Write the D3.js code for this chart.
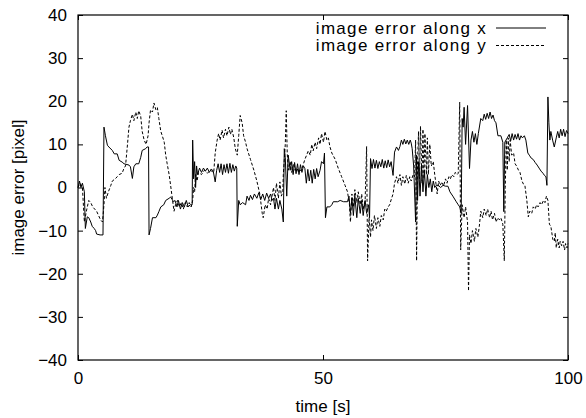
<!DOCTYPE html>
<html>
<head>
<meta charset="utf-8">
<script src="https://cdn.jsdelivr.net/npm/d3@7"></script>
<style>
  body { margin: 0; background: #fff; }
  svg { display: block; }
  text { font-family: "Liberation Sans", Arial, sans-serif; font-size: 17px; fill: #000; }
</style>
</head>
<body>
<div id="graph"></div>
<script>
// Données : [temps (s), erreur (pixel)]
const errorAlongX = [
  [0,0],[0.3,1.5],[0.6,0],[0.9,1],[1.3,-1],[1.5,-9.5],[1.9,-6.8],[2.2,-7],[2.6,-8],[2.9,-9],[3.3,-9.5],[3.6,-10],[3.8,-10.8],[4.5,-11],[5.1,-11],
  [5.3,14],[5.6,12],[6.0,9.8],[6.3,9.4],[7.0,8.6],[7.4,7.8],[8.0,7.8],[8.4,6.3],[9.0,5.9],[9.4,5.5],[10.4,5.2],[10.7,4.8],[11.1,2.1],[11.4,4.8],
  [11.8,5.5],[12.4,5.5],[12.8,7],[13.1,8.6],[13.8,9],[14.1,9.4],[14.4,9.4],[14.5,-11],[14.8,-9.5],[15.2,-7],[15.9,-7],[16.2,-6.4],[16.5,-5.6],
  [16.9,-4.5],[17.5,-4],[17.9,-3],[18.6,-2.5],[18.9,-2.2],[19.5,-3.3],
  [19.8,-3],[20.2,-4.5],[20.5,-3],[20.9,-5],[21.3,-3.5],[21.7,-4.5],[22.1,-3],[22.5,-4.5],[22.9,-4],[23.3,-4],[23.4,11],[23.6,2],[23.8,6],
  [24.0,0],[24.2,5],[24.4,3],[24.8,4.5],[25.2,3.5],[25.6,4.5],[26.0,3.8],[26.4,4.5],[26.8,3.5],[27.2,4.3],[27.6,3.8],[28.0,1.3],[28.3,4],
  [28.6,5.5],[28.9,3.5],[29.2,5.5],[29.5,3],[29.8,5.3],[30.1,3.5],[30.4,5.5],[30.7,3.3],[31.0,5.6],[31.3,3.5],[31.6,5.3],[31.9,3.8],[32.2,5],
  [32.4,4.5],[32.5,-9],[32.8,-3],[33.1,-4],[33.6,-3.5],[34.2,-4],[34.5,-2],[34.9,-3],[35.2,-1.8],[35.6,-2.8],[36.0,-1.5],[36.5,-2.5],
  [36.9,-1.2],[37.3,-2.8],[37.7,-1.5],[38.1,-3],[38.5,-1.3],[38.9,-2.5],[39.3,-1.5],[39.6,-3],
  [39.9,-2.5],[40.2,-5],[40.5,-2.5],[40.9,-5],[41.2,-3],[41.6,-5],[41.9,-8],[42.1,9],[42.3,7],[42.6,-2],[42.9,7.5],[43.3,4],[43.6,6],
  [43.9,3],[44.2,5.8],[44.5,3.2],[44.8,5.5],[45.1,3],[45.4,5.3],[45.7,3.5],[46.0,5],[46.3,4.4],[46.6,1],[46.9,4.2],[47.2,1.5],[47.5,4],
  [47.8,1],[48.1,4.2],[48.4,2],[48.7,4.4],[49.0,2.5],[49.4,4],[49.7,6],[50.1,5.5],[50.3,8],[50.5,-7],[50.8,-4.5],[51.4,-4.5],[51.8,-4],
  [52.1,-3.3],[53,-3.3],[53.5,-3],[54.2,-3.3],[55.0,-3.3],[55.3,-2],[55.6,-6],[55.9,-2.5],[56.2,-6.5],[56.5,-2],[56.9,-7],[57.2,-2.5],
  [57.6,-6],[57.9,-3],[58.2,-6.5],[58.6,-3],[58.9,-6],[59.3,-4],[59.5,-7],[59.7,6.7],
  [60.0,4.4],[60.3,6.5],[60.6,4.5],[60.9,6.3],[61.2,4.4],[61.5,6],[61.8,4.8],[62.1,6.5],[62.4,4.5],[62.7,6.2],[63.0,4.6],[63.3,6.4],
  [63.6,4.8],[63.9,6],[64.3,2.8],[64.6,8.2],[65.0,9.4],[65.4,8.6],[65.7,9.5],[66.0,11],[66.3,10],[66.6,11.2],[66.9,10.1],[67.2,11],
  [67.5,10],[67.8,11],[68.0,10.3],[68.2,9],[68.5,5],[68.9,-8],[69.1,7.5],[69.3,-3],[69.5,6],[69.8,-2],[70.1,5],[70.4,-1],[70.7,4],
  [71.0,-2],[71.3,3],[71.6,0],[71.9,2],[72.2,-1],[72.5,1.5],[72.8,0],[73.1,0.5],[73.5,0.5],[74,0],[74.5,0.5],[75,0.3],[75.5,0.3],
  [75.9,-1],[76.5,-2],[77.2,-3.3],[77.6,-4],[77.9,-4.5],[78.2,-6],[78.4,16],[78.6,14],[78.8,18.6],[79.1,10],[79.5,19],[79.9,4.4],
  [80.2,11],[80.5,13],[80.8,10.5],[81.1,12.5],[81.4,10],[81.7,12.5],[82.2,16],[82.6,15.5],[82.9,17],[83.2,15.8],[83.5,17.2],[83.8,16],
  [84.1,17.5],[84.4,16],[84.7,16.8],[85.0,15.5],[85.3,15],[85.7,12],[86.3,12],[86.7,10.5],[86.9,-5.6],[87.1,10.5],[87.6,11.5],[88.0,12.3],
  [88.3,10.8],[88.6,12.5],[88.9,11],[89.2,12.3],[89.5,11.2],[89.8,12.5],[90.1,11],[90.4,12],[90.7,11.5],[91.1,12],[91.4,11],[91.8,8],
  [92.1,7.5],[92.5,6.8],[92.9,6.5],[93.3,5.8],[93.7,5.2],[94.1,4.5],[94.5,3.8],[94.9,3.3],[95.2,2.8],[95.5,2.5],[95.7,0.5],[95.9,21],
  [96.1,15],[96.3,11],[96.5,13],[96.9,10.8],[97.2,9.4],[97.6,11.5],[97.9,13],[98.2,11.5],[98.5,13.5],[98.8,12],[99.1,13.5],[99.4,11.8],
  [99.7,13.2],[100,12.5]
];

const errorAlongY = [
  [0,0],[0.4,1],[0.9,0],[1.3,-8],[1.8,-5],[2.2,-3],[2.6,-3.5],[3.0,-4.5],[3.4,-5],[3.8,-5.5],[4.2,-6.5],[4.6,-7.5],[5.0,-8],[5.3,-4],
  [5.5,0],[5.8,-2.5],[6.2,-1],[6.7,0.5],[7.0,1.5],[7.6,2],[8.0,2.5],[8.4,3],[9.0,3.3],[9.4,4.5],[9.7,5],[10.1,10],[10.4,14],[10.7,15.5],
  [11.1,17],[11.4,15.5],[11.8,17.5],[12.1,16],[12.4,17.8],[12.8,16.5],[13.1,13],[13.5,11],[13.9,10],[14.3,12],[14.5,15],[14.8,18],
  [15.2,17.5],[15.5,19.6],[15.9,18],[16.2,18.5],[16.5,16],[16.9,13],[17.2,12],[17.6,10.5],[17.9,7.5],[18.2,5.5],[18.6,3],[18.9,0.5],
  [19.3,-3],[19.6,-5.5],
  [19.9,-4],[20.3,-3],[20.7,-4.5],[21.1,-3.5],[21.5,-5],[21.9,-3.5],[22.3,-4.5],[22.7,-3.5],[23.1,-4.5],[23.4,-3],[23.6,0],[23.8,-1],
  [24.0,3],[24.3,1.5],[24.6,3.5],[25.2,3],[25.8,4],[26.4,3.3],[27.0,4],[27.7,3.5],[28.0,8],[28.4,11],[28.7,12.5],[29.0,11],[29.4,13.3],
  [29.7,11.5],[30.1,13.5],[30.4,12],[30.8,14],[31.1,12.3],[31.4,13.5],[31.8,11.5],[32.1,9],[32.5,7.5],[32.8,12],[33.1,16.7],[33.5,15],
  [33.8,12],[34.2,10.5],[34.5,9],[35.2,6.5],[35.9,4],[36.5,1.5],[37.1,-1.5],[37.6,-6],[37.8,-7],[38.2,-4],[38.6,-5],[38.9,-2.5],
  [39.3,-4],[39.6,-2],
  [39.9,0],[40.2,-3],[40.5,1],[40.9,-2.5],[41.2,1.3],[41.5,-2],[41.8,-1],[41.9,3],[42.3,10],[42.5,17.8],[42.7,8],[42.9,4],[43.3,6],
  [43.6,3.5],[44.0,5.5],[44.3,4],[44.7,4.5],[45.0,3.5],[45.3,4],[45.6,4],[46.3,6.5],[47.0,8.5],[47.4,7.5],[47.7,10],[48.0,8.5],
  [48.4,10.5],[48.7,9],[49.1,11.5],[49.4,10],[49.7,12.5],[50.1,10.5],[50.4,13],[50.8,11],[51.1,11.5],[51.4,9.5],[51.8,8],[52.5,6.5],
  [53.1,4.5],[53.8,2.5],[54.5,0.5],[55.0,-1],[55.4,-4],[55.6,-8],[55.9,-1.5],[56.2,-4.5],[56.5,-0.5],[56.9,-3.5],[57.2,-1],[57.6,-4],
  [57.9,-1.5],[58.2,-5],[58.6,-3],[58.9,9.5],[59.1,-17],[59.4,-7],[59.7,-11.5],
  [59.9,-7.5],[60.2,-10],[60.5,-6.5],[60.9,-9.5],[61.2,-7],[61.6,-9],[61.9,-6.5],[62.3,-7.5],[62.6,-5],[62.9,-5.5],[63.3,-4.5],
  [63.6,-4],[64.0,-2.5],[64.3,-1.5],[64.6,1],[65.0,2.5],[65.3,1],[65.7,3],[66.0,0.5],[66.3,2.5],[66.7,0.8],[67.0,2.8],[67.4,1],
  [67.7,2.5],[68.0,1.5],[68.4,3],[68.7,2.5],[68.9,11],[69.1,-17],[69.3,6],[69.5,13],[69.7,2],[69.9,14.2],[70.2,1],[70.4,13.5],
  [70.6,2],[70.8,12.5],[71.1,3],[71.3,11.5],[71.5,3],[71.8,10],[72.1,5],[72.5,6],[72.8,3],[73.1,0.5],[73.3,-1.5],[73.6,1.5],
  [73.9,0.5],[74.3,1.3],[74.6,0.3],[75.0,2],[75.3,1],[75.7,2.5],[76.0,2],[76.3,3],[76.7,2.5],[77.0,3.5],[77.4,3],[77.6,3.3],
  [77.9,19.8],[78.1,-14.5],[78.4,-4],[78.8,-7],[79.1,-4.5],[79.5,-8],[79.7,-24],
  [79.9,-11],[80.2,-13],[80.5,-10],[80.9,-12.5],[81.2,-9.5],[81.6,-11.5],[81.9,-9],[82.2,-5.5],[82.6,-7],[82.9,-5],[83.3,-6.5],
  [83.6,-5],[84.0,-7],[84.3,-5.5],[84.6,-7.5],[85.0,-6],[85.3,-8],[85.7,-7],[86.0,-7.5],[86.3,-7],[86.7,-8.5],[87.0,-17],[87.2,0],
  [87.4,11],[87.6,4],[87.8,11.5],[88.0,6],[88.2,11],[88.5,7.5],[88.9,8],[89.2,5.5],[89.5,5],[89.9,4],[90.2,3.5],[90.6,1.5],
  [90.9,0.8],[91.2,0.5],[91.6,-3],[91.9,-6.8],[92.2,-5.5],[92.6,-6],[92.9,-4.5],[93.3,-5],[93.6,-4],[93.9,-4.5],[94.3,-3.5],
  [94.6,-4],[95.0,-3],[95.3,-3.5],[95.6,-2],[95.9,-3],[96.2,-8.5],[96.5,-9],[96.9,-12],[97.2,-12.5],[97.4,-10.5],[97.6,-14],
  [97.9,-12],[98.2,-14],[98.4,-12.5],[98.7,-13.5],[99.0,-12.5],[99.3,-14.5],[99.5,-13],[99.8,-14],[100,-13]
];

const xTicks = [0, 50, 100];
const yTicks = [-40, -30, -20, -10, 0, 10, 20, 30, 40];
const legendLabels = ['image error along x', 'image error along y'];

//---------------------------------------------------------------------------------------

// Canevas

const width = 586;
const height = 418;
const margin = { top: 15, right: 18, bottom: 58, left: 78 };

const svg = d3.select('#graph')
  .append('svg')
  .attr('width', width)
  .attr('height', height);

// Échelles

const scaleX = d3.scaleLinear()
  .domain([0, 100])
  .range([margin.left, width - margin.right]);

const scaleY = d3.scaleLinear()
  .domain([-40, 40])
  .range([height - margin.bottom, margin.top]);

//---------------------------------------------------------------------------------------

// Axes (ticks vers l'intérieur, en miroir comme gnuplot)

const tickLen = 5;

svg.append('g')
  .attr('transform', `translate(0,${scaleY(-40)})`)
  .call(d3.axisBottom(scaleX).tickValues(xTicks).tickSize(-tickLen).tickPadding(12))
  .call(g => g.select('.domain').remove());

svg.append('g')
  .attr('transform', `translate(0,${scaleY(40)})`)
  .call(d3.axisTop(scaleX).tickValues(xTicks).tickSize(-tickLen).tickFormat(''))
  .call(g => g.select('.domain').remove());

svg.append('g')
  .attr('transform', `translate(${scaleX(0)},0)`)
  .call(d3.axisLeft(scaleY).tickValues(yTicks).tickSize(-tickLen).tickPadding(11))
  .call(g => g.select('.domain').remove());

svg.append('g')
  .attr('transform', `translate(${scaleX(100)},0)`)
  .call(d3.axisRight(scaleY).tickValues(yTicks).tickSize(-tickLen).tickFormat(''))
  .call(g => g.select('.domain').remove());

svg.selectAll('.tick line').attr('stroke', '#000');
svg.selectAll('.tick text')
  .attr('font-size', 17)
  .attr('font-family', '"Liberation Sans", Arial, sans-serif');

//---------------------------------------------------------------------------------------

// Courbes

const line = d3.line()
  .x(d => scaleX(d[0]))
  .y(d => scaleY(d[1]));

svg.append('path')
  .datum(errorAlongY)
  .attr('d', line)
  .attr('fill', 'none')
  .attr('stroke', '#000')
  .attr('stroke-width', 1)
  .attr('stroke-dasharray', '3,2');

svg.append('path')
  .datum(errorAlongX)
  .attr('d', line)
  .attr('fill', 'none')
  .attr('stroke', '#000')
  .attr('stroke-width', 1);

// Cadre

svg.append('rect')
  .attr('x', scaleX(0))
  .attr('y', scaleY(40))
  .attr('width', scaleX(100) - scaleX(0))
  .attr('height', scaleY(-40) - scaleY(40))
  .attr('fill', 'none')
  .attr('stroke', '#000')
  .attr('stroke-width', 1.2);

//---------------------------------------------------------------------------------------

// Légende

const legend = svg.append('g')
  .selectAll('g')
  .data(legendLabels)
  .join('g')
  .attr('transform', (d, i) => `translate(0,${28 + i * 17.5})`);

legend.append('text')
  .attr('x', 487)
  .attr('dy', '0.35em')
  .attr('text-anchor', 'end')
  .attr('font-size', 15)
  .attr('letter-spacing', '1.3px')
  .text(d => d);

legend.append('line')
  .attr('x1', 496)
  .attr('x2', 546)
  .attr('stroke', '#000')
  .attr('stroke-width', 1)
  .attr('stroke-dasharray', (d, i) => i === 0 ? null : '3,2');

// Titres des axes

svg.append('text')
  .attr('x', (scaleX(0) + scaleX(100)) / 2)
  .attr('y', 412)
  .attr('text-anchor', 'middle')
  .text('time [s]');

svg.append('text')
  .attr('transform', `translate(24,${scaleY(0)}) rotate(-90)`)
  .attr('text-anchor', 'middle')
  .text('image error [pixel]');
</script>
</body>
</html>
